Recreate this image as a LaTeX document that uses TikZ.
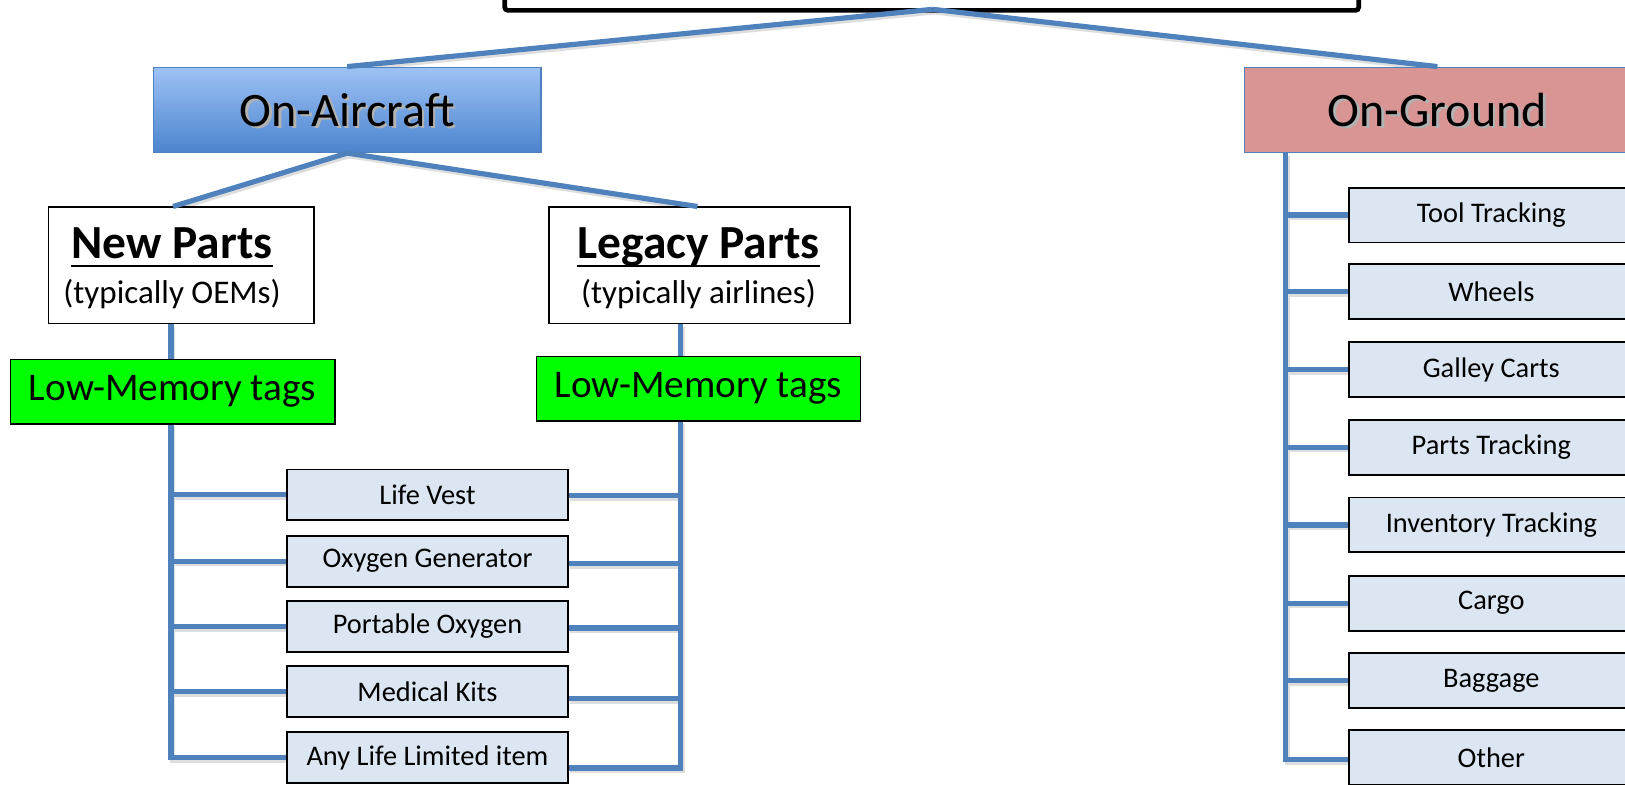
\documentclass[tikz,border=0pt]{standalone}
\usepackage{fontspec}
\setmainfont{Carlito}
\usetikzlibrary{calc}
\definecolor{lineblue}{HTML}{4F81BD}
\definecolor{itemfill}{HTML}{DCE6F2}
\definecolor{tagsgreen}{HTML}{00FF00}
\definecolor{groundpink}{HTML}{D99594}
\definecolor{airtop}{HTML}{9DC2F5}
\definecolor{airbot}{HTML}{4C84CE}
\pgfdeclarelayer{shadowlayer}
\pgfsetlayers{shadowlayer,main}
\newcommand\myul[1]{\setbox0\hbox{#1}\leavevmode\rlap{\rule[-8.5bp]{\wd0}{2.6bp}}\box0}
\newcommand\cdraw[1]{\begin{pgfonlayer}{shadowlayer}\draw[cshadow] #1;\end{pgfonlayer}\draw[conn] #1;}
\begin{document}
\begin{tikzpicture}[x=1bp,y=-1bp,
  conn/.style={draw=lineblue, line width=5bp},
  cshadow/.style={draw=black!13, line width=5bp, transform canvas={shift={(1.5,2.5)}}},
  itembox/.style={draw=black, line width=1.8bp, fill=itemfill, inner sep=0pt,
    font=\fontsize{27.5}{32}\selectfont},
  lefti/.style={itembox, minimum width=271bp, minimum height=49bp},
  righti/.style={itembox, minimum width=274bp, minimum height=53bp},
  catbox/.style={draw=lineblue, line width=1.5bp, inner sep=0pt,
    minimum height=82bp},
  cattext/.style={inner sep=0pt, font=\fontsize{46.5}{52}\selectfont},
  shadowtxt/.style={cattext, text=black!30},
  partbox/.style={draw=black, line width=1.5bp, fill=white, inner sep=0pt},
  parttext/.style={inner sep=0pt, align=center, font=\fontsize{32}{44}\selectfont},
  tagbox/.style={draw=black, line width=1.5bp, fill=tagsgreen, inner sep=0pt,
    minimum width=313bp, minimum height=62bp, font=\fontsize{38}{42}\selectfont}
]
\useasboundingbox (0,0) rectangle (1568,757);
\clip (0,0) rectangle (1568,757);

% top box (mostly cut off)
\draw[line width=4.5bp, rounded corners=3bp] (487,-40) rectangle (1311,10);
\coordinate (topc) at (900,9);

% category boxes
\node[catbox, minimum width=374bp, top color=airtop, bottom color=airbot] (oa) at (335,106) {};
\node[shadowtxt] (oas) at (337.5,108.5) {On-Aircraft};
\node[cattext] (oat) at (335,106) {On-Aircraft};
\node[catbox, minimum width=372bp, fill=groundpink] (og) at (1387,106) {};
\node[shadowtxt] (ogs) at (1389.5,108.5) {On-Ground};
\node[cattext] (ogt) at (1387,106) {On-Ground};

% part boxes
\node[partbox, minimum width=256bp, minimum height=112bp] (np) at (175,256) {};
\node[parttext] (npt) at (166,259)
  {{\fontsize{46}{50}\selectfont\bfseries\myul{New Parts}}\\[0bp](typically OEMs)};
\node[partbox, minimum width=290bp, minimum height=112bp] (lg) at (675,256) {};
\node[parttext] (lgt) at (674,259)
  {{\fontsize{46}{50}\selectfont\bfseries\myul{Legacy Parts}}\\[0bp](typically airlines)};

% tag boxes
\node[tagbox] (lmL) at (166.5,378) {Low-Memory tags};
\node[tagbox] (lmR) at (674,375) {Low-Memory tags};

% left item boxes
\node[lefti] (i1) at (412.5,477.5) {Life Vest};
\node[lefti] (i2) at (412.5,541.5) {Oxygen Generator};
\node[lefti] (i3) at (412.5,604.5) {Portable Oxygen};
\node[lefti] (i4) at (412.5,667.5) {Medical Kits};
\node[lefti] (i5) at (412.5,731) {Any Life Limited item};

% ground item boxes
\node[righti] (g1) at (1439,207.5) {Tool Tracking};
\node[righti] (g2) at (1439,281.5) {Wheels};
\node[righti] (g3) at (1439,356.5) {Galley Carts};
\node[righti] (g4) at (1439,431.5) {Parts Tracking};
\node[righti] (g5) at (1439,506.5) {Inventory Tracking};
\node[righti] (g6) at (1439,582) {Cargo};
\node[righti] (g7) at (1439,656.5) {Baggage};
\node[righti] (g8) at (1439,731) {Other};

% connectors: top level
\cdraw{(topc) -- (oa.north)}
\cdraw{(topc) -- (og.north)}
\cdraw{(oa.south) -- ($(np.north)+(-8,0)$)}
\cdraw{(oa.south) -- ($(lg.north)+(-2,0)$)}

% new parts branch
\coordinate (lbus) at ($(lmL.south)+(-1.5,0)$);
\coordinate (ltop) at ($(lmL.north)+(-1.5,0)$);
\cdraw{(ltop |- np.south) -- (ltop)}
\cdraw{(lbus) -- (lbus |- i5.west) -- (i5.west)}
\foreach \n in {i1,i2,i3,i4} {
  \cdraw{(lbus |- \n.west) -- (\n.west)}
}

% legacy branch
\coordinate (rbus) at ($(lmR.south)+(-17,0)$);
\cdraw{($(lg.south)+(-18,0)$) -- ($(lmR.north)+(-17,0)$)}
\coordinate (r1) at ($(i1.east)+(0,0.5)$);
\coordinate (r2) at ($(i2.east)+(0,2.5)$);
\coordinate (r3) at ($(i3.east)+(0,1.5)$);
\coordinate (r4) at ($(i4.east)+(0,6.5)$);
\coordinate (r5) at ($(i5.east)+(0,10)$);
\cdraw{(rbus) -- (rbus |- r5) -- (r5)}
\foreach \n in {r1,r2,r3,r4} {
  \cdraw{(rbus |- \n) -- (\n)}
}

% on-ground branch
\coordinate (gbus) at ($(og.south west)+(40.5,0)$);
\coordinate (gend) at ($(g8.west)+(0,2)$);
\cdraw{(gbus) -- (gbus |- gend) -- (gend)}
\foreach \n in {g1,g2,g3,g4,g5,g6,g7} {
  \cdraw{(gbus |- \n.west) -- (\n.west)}
}
\end{tikzpicture}
\end{document}
